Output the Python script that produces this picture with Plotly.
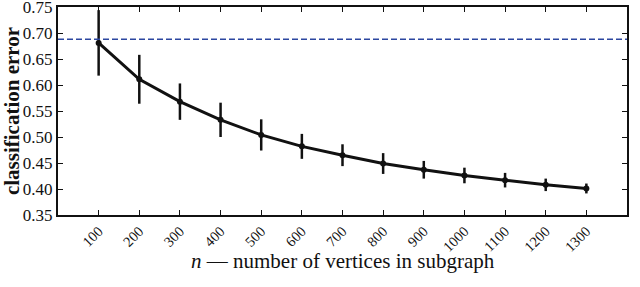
import plotly.graph_objects as go

n_vertices = [100, 200, 300, 400, 500, 600, 700, 800, 900, 1000, 1100, 1200, 1300]
error_mean = [0.681, 0.611, 0.568, 0.533, 0.504, 0.482, 0.465, 0.449, 0.437, 0.426, 0.417, 0.408, 0.401]
error_sd = [0.063, 0.047, 0.035, 0.033, 0.030, 0.024, 0.021, 0.020, 0.017, 0.015, 0.014, 0.012, 0.0095]
chance_error = 0.688
tick_labels = [str(v) for v in n_vertices]
y_ticks = [0.35, 0.40, 0.45, 0.50, 0.55, 0.60, 0.65, 0.70, 0.75]

FONT = "Liberation Serif"

fig = go.Figure()
fig.add_trace(go.Scatter(
    x=n_vertices, y=error_mean,
    mode="lines+markers",
    line=dict(color="#111111", width=3),
    marker=dict(color="#111111", size=6),
    error_y=dict(type="data", array=error_sd, color="#111111", thickness=2.5, width=0),
    showlegend=False, hoverinfo="skip",
))
fig.add_shape(type="line", xref="paper", x0=0, x1=1, yref="y", y0=chance_error, y1=chance_error,
              line=dict(color="#2c47a0", width=1.3, dash="6px,3px"))

# x-axis title as annotation
fig.add_annotation(
    text="<i>n</i> — number of vertices in subgraph",
    xref="paper", yref="paper", x=0.5, y=-0.222, xanchor="center", yanchor="middle",
    showarrow=False, font=dict(family=FONT, size=21, color="#111"),
)
# caption (cut off at bottom, as in the source)
fig.add_annotation(
    text="Fig. 1: Error rates in classification via leave-one-out cross-validation for each subgraph size. Chance classification error is ≈ 0.690, shown as the dashed line.",
    xref="paper", yref="paper", x=-0.1, y=-0.33, xanchor="left", yanchor="top",
    showarrow=False, font=dict(family=FONT, size=11, color="#222"),
)

fig.update_layout(
    width=640, height=287,
    margin=dict(l=58, r=13, t=7, b=72),
    plot_bgcolor="white", paper_bgcolor="white",
    font=dict(family=FONT, size=18, color="#111"),
)
fig.update_xaxes(
    range=[0, 1400], tickvals=n_vertices, ticktext=tick_labels, tickangle=-45,
    ticks="inside", ticklen=5, tickcolor="#111", mirror="ticks",
    showline=True, linecolor="#111", linewidth=2, showgrid=False, zeroline=False,
    tickfont=dict(family=FONT, size=14.5), automargin=False, ticklabeloverflow="allow",
)
fig.update_yaxes(
    range=[0.35, 0.75], tickvals=y_ticks, tickformat=".2f",
    ticks="inside", ticklen=5, tickcolor="#111", mirror="ticks",
    showline=True, linecolor="#111", linewidth=2, showgrid=False, zeroline=False,
    tickfont=dict(family=FONT, size=17), automargin=False, ticklabeloverflow="allow",
    title=dict(text="<b>classification error</b>", font=dict(family=FONT, size=21), standoff=1),
)

fig.write_html("out.html", config={"displayModeBar": False},
               post_script="document.body.style.margin='0';")
